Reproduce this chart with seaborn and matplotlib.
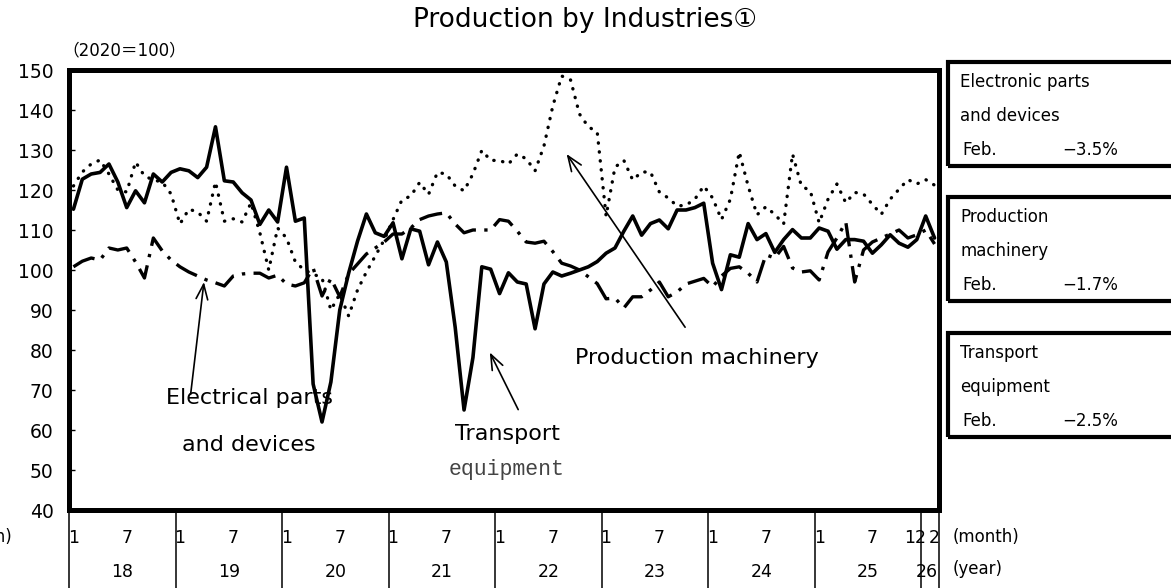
import numpy as np
import pandas as pd
import matplotlib
matplotlib.use("Agg")
import matplotlib.pyplot as plt
from matplotlib.patches import Rectangle
from matplotlib.transforms import blended_transform_factory
import seaborn as sns

# -------------------------------
# data (2020=100), Jan 2018 - Feb 2026
# -------------------------------
months = pd.date_range("2018-01-01", periods=98, freq="MS")

transport = [
    115.2, 122.7, 124.0, 124.4, 126.5, 122.0, 115.6, 119.8, 116.8, 124.0, 122.0, 124.4,
    125.3, 124.8, 123.1, 125.7, 135.8, 122.3, 122.0, 119.3, 117.5, 111.4, 115.0, 112.0,
    125.7, 112.2, 113.0, 71.5, 62.0, 72.0, 90.0, 99.2, 107.2, 114.0, 109.3, 108.4,
    111.8, 102.8, 110.3, 109.7, 101.3, 107.0, 102.0, 85.7, 65.0, 78.1, 100.8, 100.2,
    94.1, 99.3, 97.0, 96.5, 85.3, 96.5, 99.5, 98.5, 99.2, 100.0, 100.8, 102.1,
    104.2, 105.5, 109.7, 113.5, 108.7, 111.6, 112.5, 110.3, 115.0, 115.0, 115.6, 116.7,
    101.7, 95.1, 103.8, 103.2, 111.6, 107.6, 109.1, 104.4, 107.6, 110.1, 108.0, 108.0,
    110.5, 109.7, 105.2, 107.6, 107.6, 107.2, 104.2, 106.3, 108.8, 106.7, 105.7, 107.6,
    113.5, 108.0,
]

machinery = [
    121.0, 124.5, 126.5, 127.5, 124.0, 120.0, 119.5, 127.0, 123.5, 122.5, 122.0, 119.0,
    111.5, 115.2, 114.5, 112.2, 122.0, 112.2, 112.8, 112.0, 116.8, 109.3, 100.0, 110.5,
    108.0, 102.0, 100.0, 99.0, 98.0, 90.0, 94.0, 88.5, 95.0, 99.5, 103.5, 107.5,
    112.6, 117.5, 118.5, 121.9, 118.9, 124.4, 124.0, 121.0, 119.8, 124.0, 129.9, 127.4,
    127.4, 126.5, 129.0, 127.8, 124.8, 131.0, 141.0, 148.5, 147.5, 139.0, 135.8, 134.5,
    113.5, 125.7, 127.4, 122.5, 124.5, 124.5, 119.5, 118.0, 116.0, 116.2, 117.7, 121.0,
    118.0, 112.6, 117.7, 129.5, 121.0, 113.8, 115.8, 113.9, 111.5, 129.0, 121.0, 119.8,
    111.8, 117.7, 121.5, 116.8, 119.4, 119.0, 116.4, 113.9, 117.7, 120.2, 122.6, 121.5,
    122.6, 121.2,
]

electronic = [
    100.8, 102.2, 103.0, 102.5, 105.5, 105.0, 105.5, 102.0, 98.0, 108.0, 104.8, 102.5,
    100.8, 99.5, 98.5, 97.5, 96.8, 96.0, 98.5, 99.0, 99.2, 99.2, 98.0, 98.7,
    96.5, 96.0, 96.8, 100.5, 93.5, 97.9, 93.3, 99.0, 101.5, 104.0, 105.5, 107.0,
    109.0, 109.0, 110.5, 112.6, 113.5, 114.0, 114.3, 111.5, 109.3, 110.0, 110.0, 110.0,
    112.6, 112.2, 109.7, 107.0, 106.7, 107.2, 104.6, 101.7, 101.0, 100.0, 98.3, 96.6,
    92.8, 93.0, 90.5, 93.3, 93.3, 95.0, 97.0, 93.3, 94.5, 96.5, 97.2, 97.9,
    95.8, 98.5, 100.4, 100.8, 99.2, 97.0, 103.8, 103.0, 105.9, 100.5, 99.5, 99.8,
    97.5, 104.5, 108.0, 112.0, 97.0, 105.0, 107.0, 108.0, 109.0, 110.0, 108.0, 108.8,
    110.0, 106.5,
]

year_labels = ["18", "19", "20", "21", "22", "23", "24", "25", "26"]
box_names = [["Electronic parts", "and devices"],
             ["Production", "machinery"],
             ["Transport", "equipment"]]
box_changes = ["\u22123.5%", "\u22121.7%", "\u22122.5%"]

df = pd.DataFrame({
    "idx": np.arange(len(months)),
    "transport": transport,
    "machinery": machinery,
    "electronic": electronic,
})

# -------------------------------
# figure
# -------------------------------
sns.set_theme(style="white")
plt.rcParams["font.family"] = ["DejaVu Sans", "Noto Sans CJK JP"]
plt.rcParams["text.color"] = "black"

W, H = 1171, 588
fig = plt.figure(figsize=(W / 100, H / 100), dpi=100)
ax = fig.add_axes([69 / W, 1 - 510 / H, 870 / W, 440 / H])

sns.lineplot(data=df, x="idx", y="electronic", ax=ax, color="black", lw=2.4,
             linestyle=(0, (7, 2.5, 1, 2.5)))
sns.lineplot(data=df, x="idx", y="machinery", ax=ax, color="black", lw=2.4,
             linestyle=(0, (0.1, 2.6)), dash_capstyle="round")
sns.lineplot(data=df, x="idx", y="transport", ax=ax, color="black", lw=2.6)

ax.set_xlim(-0.5, len(months) - 0.5)
ax.set_ylim(40, 150)
ax.set_yticks(range(40, 151, 10))
ax.tick_params(axis="y", direction="in", length=4, width=1, left=True,
               labelsize=13.5, pad=11, colors="black")
ax.set_xticks([])
ax.set_xlabel("")
ax.set_ylabel("")
for s in ax.spines.values():
    s.set_color("black")
    s.set_linewidth(3.6)

# category axis drawn below the plot
trans = blended_transform_factory(ax.transData, ax.transAxes)
bounds = list(range(0, len(months), 12)) + [len(months)]
for b in bounds:
    ax.plot([b - 0.5, b - 0.5], [0, -0.2], transform=trans, color="black",
            lw=1.1, clip_on=False)
for k, yl in enumerate(year_labels):
    start = 12 * k
    if start + 6 < len(months):
        ax.text(start, -0.063, "1", transform=trans, ha="center", va="center", fontsize=12.5)
        ax.text(start + 6, -0.063, "7", transform=trans, ha="center", va="center", fontsize=12.5)
        ax.text(start + 5.5, -0.142, yl, transform=trans, ha="center", va="center", fontsize=12.5)
    else:
        ax.text(start - 1.2, -0.063, "12", transform=trans, ha="center", va="center", fontsize=12.5)
        ax.text(len(months) - 1, -0.063, "2", transform=trans, ha="center", va="center", fontsize=12.5)
        ax.text(start + 0.1, -0.142, yl, transform=trans, ha="center", va="center", fontsize=12.5)

fig.text(953 / W, 1 - 537 / H, "(month)", ha="left", va="center", fontsize=12)
fig.text(953 / W, 1 - 569 / H, "(year)", ha="left", va="center", fontsize=12)
fig.text(12 / W, 1 - 537 / H, "(month)", ha="right", va="center", fontsize=12)

# titles
fig.text(585 / W, 1 - 20 / H, "Production by Industries\u2460", ha="center", va="center",
         fontsize=19)
fig.text(124 / W, 1 - 50 / H, "\uff082020\uff1d100\uff09", ha="center", va="center",
         fontsize=12)

# annotations
arrow = dict(arrowstyle="->,head_length=0.9,head_width=0.35", lw=1.2, color="black",
             shrinkA=0, shrinkB=0)
ax.annotate("", xy=(14.7, 97.0), xytext=(13.2, 68.9), arrowprops=arrow)
ax.text(19.8, 67.9, "Electrical parts", ha="center", va="center", fontsize=16)
ax.text(19.8, 56.3, "and devices", ha="center", va="center", fontsize=16)

ax.annotate("", xy=(46.9, 79.4), xytext=(50.1, 65.1), arrowprops=arrow)
ax.text(48.9, 59.1, "Transport", ha="center", va="center", fontsize=16)
ax.text(48.8, 50.0, "equipment", ha="center", va="center", fontsize=15.5,
        family="Liberation Mono", color="#444444")

ax.annotate("", xy=(55.55, 129.0), xytext=(68.9, 85.7), arrowprops=arrow)
ax.text(70.2, 78.0, "Production machinery", ha="center", va="center", fontsize=16)

# right-hand boxes with latest month change
box_tops = [62, 197, 333]
for top, names, chg in zip(box_tops, box_names, box_changes):
    h = 104
    fig.patches.append(Rectangle((948 / W, 1 - (top + h) / H), 300 / W, h / H,
                                 transform=fig.transFigure, fill=False,
                                 edgecolor="black", lw=3.0))
    fig.text(960 / W, 1 - (top + 20) / H, names[0], ha="left", va="center", fontsize=12)
    fig.text(960 / W, 1 - (top + 54) / H, names[1], ha="left", va="center", fontsize=12)
    fig.text(962 / W, 1 - (top + 88) / H, "Feb.", ha="left", va="center", fontsize=12)
    fig.text(1118 / W, 1 - (top + 88) / H, chg, ha="right", va="center", fontsize=12)

fig.savefig("out.png", dpi=100, facecolor="white")
plt.close(fig)
